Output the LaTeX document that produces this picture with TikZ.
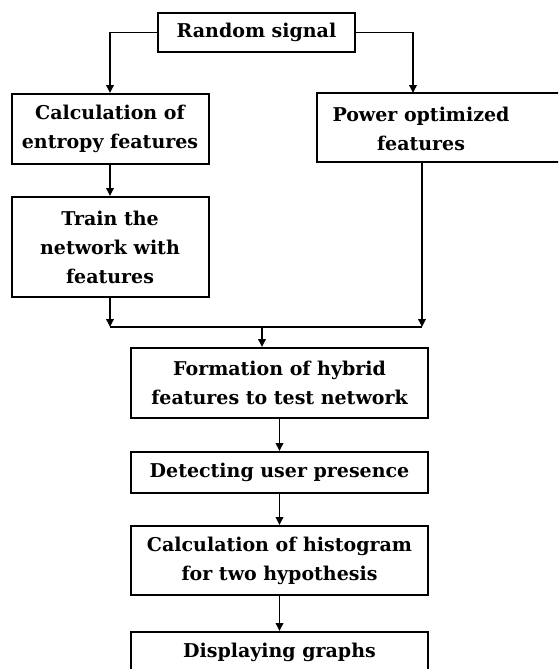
\documentclass[tikz,border=0pt]{standalone}
\usepackage{fontspec}
\setmainfont{DejaVu Serif}
\usepackage{tikz}
\usetikzlibrary{arrows.meta,positioning}

\begin{document}
\begin{tikzpicture}[x=1pt, y=-1pt,
    box/.style={draw, line width=2pt, minimum width=297pt, align=center, inner sep=0pt},
    lbl/.style={align=center, font=\bfseries\fontsize{19}{29}\selectfont},
    link/.style={line width=1.8pt},
    arr/.style={link, -{Triangle[length=8pt,width=7.5pt]}}]
  \useasboundingbox (0,0) rectangle (558,669);
  \clip (0,0) rectangle (558,669);

  \node[box, lbl, minimum width=197pt, minimum height=39pt] (rs) at (256.5,32.5) {Random signal};
  \node[box, lbl, minimum width=197pt, minimum height=70pt] (ent) at (110,129) {Calculation of\\entropy features};
  \node[box, minimum width=250pt, minimum height=69pt] (pow) at (442,127.5) {};
  \node[lbl] (powlbl) at (421,128.5) {Power optimized\\features};
  \node[box, lbl, minimum width=197pt, minimum height=100pt] (train) at (110,247) {Train the\\network with\\features};
  \node[box, lbl, minimum height=70pt] (form) at (279.5,383) {Formation of hybrid\\features to test network};
  \node[box, lbl, minimum height=41pt] (det) at (279.5,472.5) {Detecting user presence};
  \node[box, lbl, minimum height=69pt] (hist) at (279.5,560.5) {Calculation of histogram\\for two hypothesis};
  \node[box, lbl, minimum height=41pt] (disp) at (279.5,652.5) {Displaying graphs};

  % joining points
  \coordinate (pin) at (413,93);
  \coordinate (jl) at (110,327);
  \coordinate (jr) at (422,327);
  \coordinate (jm) at (262,327);

  \draw[arr] (rs.west) -| (ent.north);
  \draw[arr] (rs.east) -| (pin);
  \draw[arr] (ent.south) -- (train.north);
  \draw[arr] (train.south) -- (jl);
  \draw[arr] (jr |- pow.south) -- (jr);
  \draw[link] (jl) -- (jr);
  \draw[arr] (jm) -- (jm |- form.north);
  \draw[arr] (form) -- (det);
  \draw[arr] (det) -- (hist);
  \draw[arr] (hist) -- (disp);
\end{tikzpicture}
\end{document}
